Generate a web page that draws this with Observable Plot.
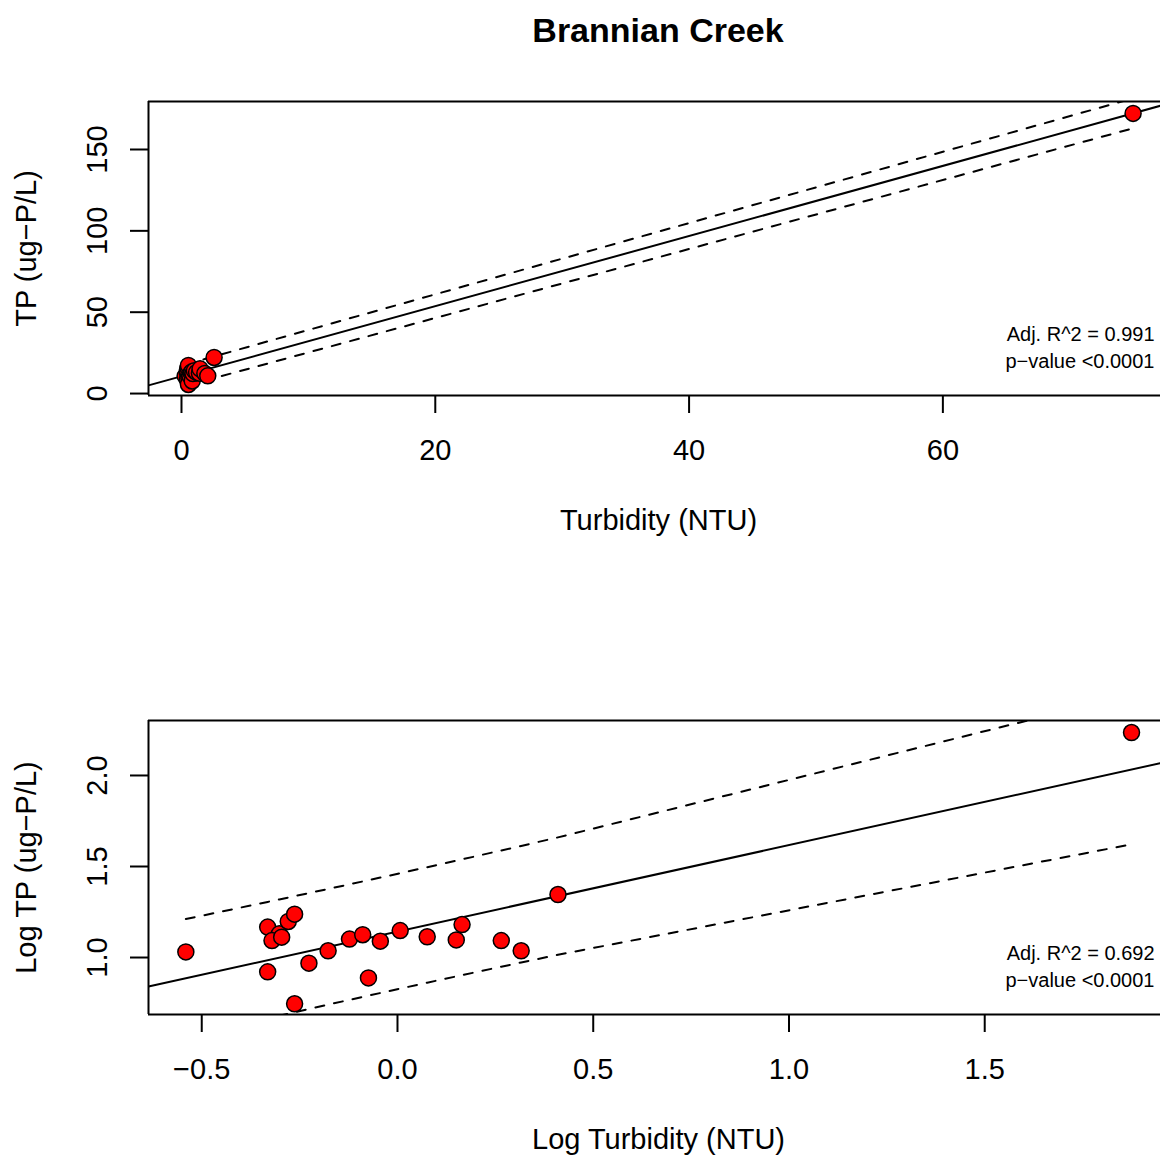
<!DOCTYPE html>
<html>
<head>
<meta charset="utf-8">
<script src="https://cdn.jsdelivr.net/npm/d3@7"></script>
<script src="https://cdn.jsdelivr.net/npm/@observablehq/plot@0.6"></script>
<style>
  body { margin: 0; background: #fff; font-family: "Liberation Sans", Arial, sans-serif; overflow: hidden; }
  #title { width: 1160px; height: 60px; line-height: 60px; box-sizing: border-box; padding-left: 156px;
           text-align: center; font-size: 34px; font-weight: bold; color: #000; }
  svg { display: block; }
</style>
</head>
<body>
<div id="title">Brannian Creek</div>
<div id="raw"></div>
<div id="logged"></div>
<script>
// Brannian Creek grab samples: turbidity (NTU) and total phosphorus (ug-P/L)
const turbidity = [0.288, 0.466, 0.499, 0.478, 0.506, 0.526, 0.546, 0.466, 0.594, 0.546, 0.665, 0.754,
                   0.815, 0.843, 0.904, 1.016, 1.191, 1.413, 1.462, 1.841, 2.070, 2.570, 74.99];
const tp = [10.74, 14.69, 13.49, 12.39, 12.94, 15.78, 17.30, 8.34, 9.31, 5.57, 10.89, 12.62,
            13.34, 7.73, 12.30, 14.06, 13.00, 12.50, 15.17, 12.39, 10.89, 22.18, 172.2];

// Axis ticks and their printed labels
const rawXTicks = [0, 20, 40, 60];
const rawXTickLabels = ["0", "20", "40", "60"];
const rawYTicks = [0, 50, 100, 150];
const rawYTickLabels = ["0", "50", "100", "150"];
const logXTicks = [-0.5, 0, 0.5, 1, 1.5];
const logXTickLabels = ["\u22120.5", "0.0", "0.5", "1.0", "1.5"];
const logYTicks = [1, 1.5, 2];
const logYTickLabels = ["1.0", "1.5", "2.0"];

// Fit summaries printed in each panel
const rawStats = ["Adj. R^2 = 0.991", "p\u2212value <0.0001"];
const logStats = ["Adj. R^2 = 0.692", "p\u2212value <0.0001"];

// Student t 0.975 quantile for n - 2 = 21 degrees of freedom (95% prediction interval)
const T975 = 2.0796;

const FONT = "Liberation Sans, Arial, sans-serif";

// Ordinary least squares fit with 95% prediction bands evaluated at the sorted x values
function fitLinear(xs, ys) {
  const n = xs.length;
  const mx = d3.mean(xs), my = d3.mean(ys);
  let sxx = 0, sxy = 0;
  for (let i = 0; i < n; i++) { sxx += (xs[i] - mx) ** 2; sxy += (xs[i] - mx) * (ys[i] - my); }
  const b = sxy / sxx, a = my - b * mx;
  let sse = 0;
  for (let i = 0; i < n; i++) sse += (ys[i] - (a + b * xs[i])) ** 2;
  const s = Math.sqrt(sse / (n - 2));
  const sorted = [...xs].sort(d3.ascending);
  const band = sorted.map(x => {
    const yhat = a + b * x;
    const half = T975 * s * Math.sqrt(1 + 1 / n + (x - mx) ** 2 / sxx);
    return {x, lo: yhat - half, hi: yhat + half};
  });
  return {a, b, band};
}

function panel({xs, ys, xDomain, yDomain, xTicks, xTickLabels, yTicks, yTickLabels,
                xLabel, yLabel, stats, marginTop, marginBottom}) {
  const fit = fitLinear(xs, ys);
  const pts = xs.map((x, i) => ({x, y: ys[i]}));
  const fitLine = xDomain.map(x => ({x, y: fit.a + fit.b * x}));
  const lineStyle = {stroke: "black", strokeWidth: 2, clip: true};
  const centered = {textAnchor: "middle", lineAnchor: "middle", fill: "black"};
  return Plot.plot({
    width: 1160,
    height: marginTop + 294 + marginBottom,
    marginLeft: 148,
    marginRight: 0,
    marginTop,
    marginBottom,
    style: {fontFamily: FONT, color: "black", background: "white", overflow: "visible"},
    x: {domain: xDomain},
    y: {domain: yDomain},
    marks: [
      // plot box (its right edge lies past the page)
      Plot.ruleY(yDomain, {stroke: "black", strokeWidth: 2}),
      Plot.ruleX([xDomain[0]], {stroke: "black", strokeWidth: 2}),
      // outward ticks
      Plot.axisX({ticks: xTicks, tickSize: 18, tickFormat: () => "", strokeWidth: 2, label: null}),
      Plot.axisY({ticks: yTicks, tickSize: 18, tickFormat: () => "", strokeWidth: 2, label: null}),
      Plot.text(xTicks, {x: d => d, text: (d, i) => xTickLabels[i], frameAnchor: "bottom", dy: 55,
                         fontSize: 29, ...centered}),
      Plot.text(yTicks, {y: d => d, text: (d, i) => yTickLabels[i], frameAnchor: "left", dx: -51,
                         rotate: -90, fontSize: 29, ...centered}),
      // axis titles
      Plot.text([xLabel], {text: d => d, frameAnchor: "bottom", dx: 4, dy: 125, fontSize: 29, ...centered}),
      Plot.text([yLabel], {text: d => d, frameAnchor: "left", dx: -122, rotate: -90, fontSize: 29, ...centered}),
      // regression line and prediction interval
      Plot.line(fitLine, {x: "x", y: "y", ...lineStyle}),
      Plot.line(fit.band, {x: "x", y: "hi", ...lineStyle, strokeDasharray: "9,10"}),
      Plot.line(fit.band, {x: "x", y: "lo", ...lineStyle, strokeDasharray: "9,10"}),
      // observations
      Plot.dot(pts, {x: "x", y: "y", r: 8, fill: "red", stroke: "black", strokeWidth: 1.5}),
      // fit statistics
      Plot.text([stats[0]], {text: d => d, frameAnchor: "bottom-right", textAnchor: "end", lineAnchor: "middle",
                             dx: -6, dy: -61, fontSize: 20, fill: "black"}),
      Plot.text([stats[1]], {text: d => d, frameAnchor: "bottom-right", textAnchor: "end", lineAnchor: "middle",
                             dx: -6, dy: -34, fontSize: 20, fill: "black"})
    ]
  });
}

document.getElementById("raw").append(panel({
  xs: turbidity, ys: tp,
  xDomain: [-2.6, 77.15], yDomain: [-1.2, 179.5],
  xTicks: rawXTicks, xTickLabels: rawXTickLabels,
  yTicks: rawYTicks, yTickLabels: rawYTickLabels,
  xLabel: "Turbidity (NTU)", yLabel: "TP (ug\u2212P/L)",
  stats: rawStats, marginTop: 41, marginBottom: 150
}));

document.getElementById("logged").append(panel({
  xs: turbidity.map(Math.log10), ys: tp.map(Math.log10),
  xDomain: [-0.636, 1.949], yDomain: [0.687, 2.302],
  xTicks: logXTicks, xTickLabels: logXTickLabels,
  yTicks: logYTicks, yTickLabels: logYTickLabels,
  xLabel: "Log Turbidity (NTU)", yLabel: "Log TP (ug\u2212P/L)",
  stats: logStats, marginTop: 175, marginBottom: 143
}));
</script>
</body>
</html>
